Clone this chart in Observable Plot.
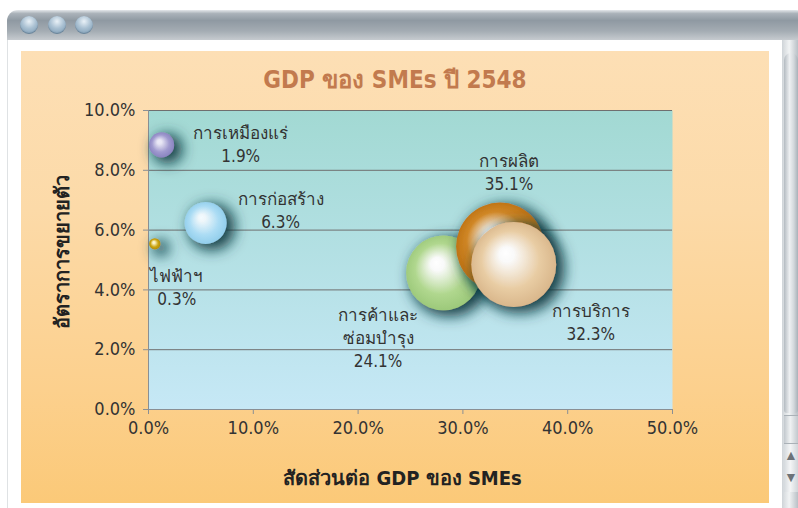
<!DOCTYPE html>
<html>
<head>
<meta charset="utf-8">
<script src="https://cdn.jsdelivr.net/npm/d3@7"></script>
<script src="https://cdn.jsdelivr.net/npm/@observablehq/plot@0.6"></script>
<style>
  html, body { margin:0; padding:0; background:#fff; width:798px; height:508px; overflow:hidden; position:relative; }
  #titlebar { position:absolute; left:7px; top:10px; width:800px; height:30px; border-radius:11px 11px 0 0;
    background:linear-gradient(#e4e7ea 0%, #aab2b9 12%, #8f99a2 35%, #a4acb3 70%, #c6cbcf 100%); }
  .btn { position:absolute; top:6px; width:18px; height:18px; border-radius:50%;
    background:radial-gradient(circle at 50% 30%, #e9f1f7 0%, #a9c0d2 45%, #7595ae 100%);
    box-shadow: inset 0 -1px 1px rgba(40,60,80,.35); }
  #winbody { position:absolute; left:7px; top:40px; width:775px; height:470px; background:#fff; border-left:1px solid #dfe2e4; }
  #scroll { position:absolute; left:782px; top:40px; width:16px; height:470px; background:linear-gradient(90deg,#cfd4d8,#f1f3f4 45%,#b9c0c6); }
  #thumb { position:absolute; left:784px; top:53px; width:14px; height:360px; border-radius:7px 7px 3px 3px;
    background:linear-gradient(90deg,#b4bbc1,#eef0f2 40%,#d3d8dc 70%,#a9b1b8); }
  #seg { position:absolute; left:784px; top:415px; width:14px; height:27px; background:linear-gradient(90deg,#c2c8cd,#f0f2f3 45%,#c2c8cd); border-top:1px solid #aab1b7; }
  #arrows { position:absolute; left:784px; top:443px; width:14px; height:48px; background:linear-gradient(90deg,#d4d9dd,#f4f5f6 45%,#d0d5d9); border-top:1px solid #aab1b7; color:#6d7378; font:bold 14px sans-serif; text-align:center; line-height:22px; }
  #panel { position:absolute; left:21px; top:51px; width:748px; height:452px;
    background:linear-gradient(#fddfb5 0%, #fcdaa8 35%, #fcd08d 75%, #fbc978 100%); }
  #title { position:absolute; left:0; top:14px; width:100%; text-align:center; font-family:"Liberation Sans Narrow","DejaVu Sans Condensed",sans-serif;
    font-weight:bold; font-size:24px; line-height:30px; color:#c27a4e; z-index:2; }
  #chart { position:absolute; left:0; top:40px; }
</style>
</head>
<body>
<div id="titlebar"><div class="btn" style="left:13px"></div><div class="btn" style="left:41px"></div><div class="btn" style="left:68px"></div></div>
<div id="winbody"></div>
<div id="scroll"></div><div id="thumb"></div><div id="seg"></div><div id="arrows">▲<br>▼</div>
<div id="panel">
  <div id="title">GDP ของ SMEs ปี 2548</div>
  <div id="chart"></div>
</div>
<script>
// ---- data ----
const sectors   = ["การเหมืองแร่", "การก่อสร้าง", "ไฟฟ้าฯ", "การค้าและ\nซ่อมบำรุง", "การผลิต", "การบริการ"];
const shareGDP  = [1.9, 6.3, 0.3, 24.1, 35.1, 32.3];        // % share of SME GDP (label value, bubble size)
const bubbleX   = [1.25, 5.45, 0.6, 28.15, 33.55, 34.85];    // x position of bubble (%)
const growth    = [8.85, 6.24, 5.54, 4.57, 5.45, 4.85];      // growth rate (%)
const labelX    = [8.8, 12.6, 2.7, 21.9, 34.4, 42.2];        // label anchor (data units)
const labelY    = [8.91, 6.69, 4.11, 2.44, 7.98, 2.97];
const xTicks    = [0, 10, 20, 30, 40, 50];
const yTicks    = [0, 2, 4, 6, 8, 10];
const xTitle    = "สัดส่วนต่อ GDP ของ SMEs";
const yTitle    = "อัตราการขยายตัว";

// bubble colours [light, base, dark]
const palette = [
  ["#ece9f8", "#a09acf", "#857fbd"],
  ["#f3fbff", "#abdcf4", "#8ccbea"],
  ["#fff6c8", "#cba40e", "#a98600"],
  ["#ffffff", "#b0d78e", "#98c676"],
  ["#ffffff", "#d08726", "#b96c0e"],
  ["#ffffff", "#e8cca3", "#d6b286"]
];

const rows = sectors.map((s, i) => ({
  sector: s, share: shareGDP[i], x: bubbleX[i], y: growth[i],
  lx: labelX[i], ly: labelY[i], fill: `url(#bub${i})`,
  label: `${s}\n${shareGDP[i].toFixed(1)}%`
}));

const FONT = `"Liberation Sans Narrow","DejaVu Sans Condensed",sans-serif`;
const pct = d => d.toFixed(1) + "%";

const chart = Plot.plot({
  width: 748, height: 412,
  marginLeft: 127, marginRight: 97, marginTop: 19, marginBottom: 94,
  style: { background: "transparent", fontFamily: FONT, fontSize: "18px", color: "#333" },
  x: { domain: [0, 50], ticks: xTicks, tickFormat: pct, label: null },
  y: { domain: [0, 10], ticks: yTicks, tickFormat: pct, label: null },
  r: { type: "pow", exponent: 0.43, domain: [0, 35.1], range: [0, 44] },
  color: { type: "identity" },
  marks: [
    Plot.frame({ fill: "url(#plotBg)", stroke: null }),
    Plot.gridY(yTicks, { stroke: "#6f6f6f", strokeOpacity: 1, strokeWidth: 1 }),
    Plot.ruleX([0], { stroke: "#8a8f94" }),
    Plot.ruleY([0], { stroke: "#8a8f94" }),
    Plot.axisX(xTicks, { tickSize: 5, tickPadding: 7, stroke: "#8a8f94", fill: "#333", fontSize: 18, label: null, tickFormat: pct }),
    Plot.axisY(yTicks, { tickSize: 5, tickPadding: 8, stroke: "#8a8f94", fill: "#333", fontSize: 18, label: null, tickFormat: pct }),
    Plot.dot(rows, { x: "x", y: "y", r: "share", fill: "fill", stroke: null, sort: null }),
    Plot.text(rows, { x: "lx", y: "ly", text: "label", lineAnchor: "middle", lineHeight: 1.35, fontSize: 17, fill: "#333" }),
    Plot.text([xTitle], { frameAnchor: "bottom", dy: 75, dx: -8, fontSize: 20, fontWeight: "bold", fill: "#222" }),
    Plot.text([yTitle], { frameAnchor: "left", textAnchor: "middle", dx: -86, dy: -8, rotate: -90, fontSize: 20, fontWeight: "bold", fill: "#222" })
  ]
});

// SVG paint servers: bubble gradients, plot background, shadow
const svg = d3.select(chart.tagName === "svg" ? chart : chart.querySelector("svg"));
const defs = svg.insert("defs", ":first-child");
const bg = defs.append("linearGradient").attr("id", "plotBg").attr("x1", 0).attr("y1", 0).attr("x2", 0).attr("y2", 1);
bg.append("stop").attr("offset", "0%").attr("stop-color", "#a2d9d3");
bg.append("stop").attr("offset", "100%").attr("stop-color", "#c6e8f6");
palette.forEach((c, i) => {
  const g = defs.append("radialGradient").attr("id", `bub${i}`)
    .attr("cx", "0.5").attr("cy", "0.5").attr("r", "0.55").attr("fx", "0.4").attr("fy", "0.36");
  g.append("stop").attr("offset", "0%").attr("stop-color", c[0]);
  g.append("stop").attr("offset", "16%").attr("stop-color", c[0]).attr("stop-opacity", 0.95);
  g.append("stop").attr("offset", "62%").attr("stop-color", c[1]);
  g.append("stop").attr("offset", "100%").attr("stop-color", c[2]);
});
const f = defs.append("filter").attr("id", "shadow").attr("filterUnits", "userSpaceOnUse")
  .attr("x", 0).attr("y", 0).attr("width", 748).attr("height", 412);
f.append("feMorphology").attr("in", "SourceAlpha").attr("operator", "dilate").attr("radius", 2).attr("result", "d");
f.append("feGaussianBlur").attr("in", "d").attr("stdDeviation", 7).attr("result", "b");
f.append("feOffset").attr("in", "b").attr("dx", 6).attr("dy", 4).attr("result", "o");
f.append("feFlood").attr("flood-color", "#0e3a41").attr("flood-opacity", 0.95).attr("result", "c");
f.append("feComposite").attr("in", "c").attr("in2", "o").attr("operator", "in").attr("result", "s");
const m = f.append("feMerge");
m.append("feMergeNode").attr("in", "s");
m.append("feMergeNode").attr("in", "SourceGraphic");
svg.selectAll('g[aria-label="dot"] circle').attr("filter", "url(#shadow)");

document.getElementById("chart").appendChild(chart);
</script>
</body>
</html>
